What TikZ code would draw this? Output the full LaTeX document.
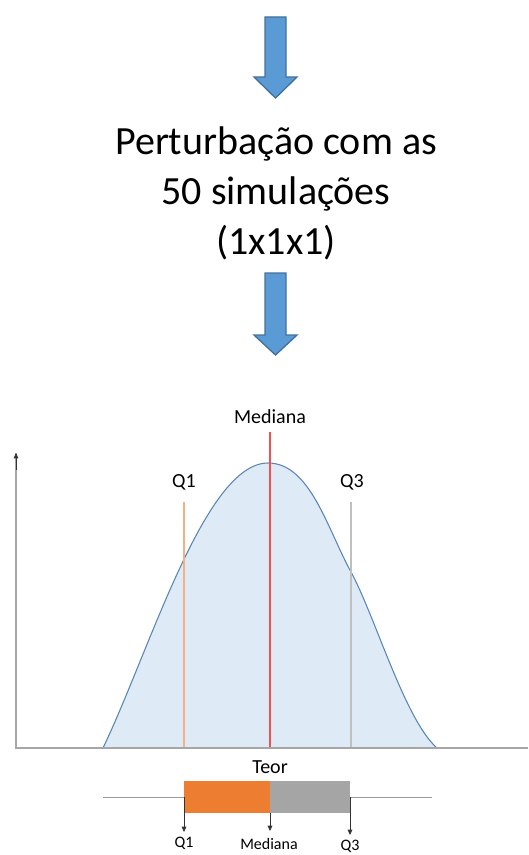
\documentclass[tikz,border=0pt]{standalone}
\usepackage{fontspec}
\setmainfont{Carlito}
\usetikzlibrary{arrows.meta}
\definecolor{blockblue}{HTML}{5B9BD5}
\definecolor{blockedge}{HTML}{41719C}
\definecolor{curvefill}{HTML}{DEEAF6}
\definecolor{curveline}{HTML}{5A86B4}
\definecolor{boxorange}{HTML}{ED7D31}
\definecolor{boxgray}{HTML}{A5A5A5}
\definecolor{q1line}{HTML}{F4B183}
\definecolor{q3line}{HTML}{BFBFBF}
\definecolor{medline}{HTML}{F05050}

\begin{document}
\begin{tikzpicture}[
    x=0.75pt, y=-0.75pt,
    bigarrow/.style={fill=blockblue, draw=blockedge, line width=1pt, line join=miter},
    title/.style={font=\fontsize{30}{37.5}\selectfont, align=center, inner sep=0pt},
    lbl/.style={font=\fontsize{15}{18}\selectfont, inner sep=0pt},
    small/.style={font=\fontsize{12}{14}\selectfont, inner sep=0pt},
    axis/.style={draw=gray!70, line width=0.8pt},
    whisker/.style={draw=gray!80, line width=0.7pt},
    tick/.style={-{Triangle[length=4pt,width=3.5pt]}, black!80, line width=0.6pt},
]
\useasboundingbox (0,0) rectangle (528,855);

% Block arrows
\filldraw[bigarrow] (265,17) -- (286,17) -- (286,77) -- (297,77) -- (275.5,98)
    -- (254,77) -- (265,77) -- cycle;
\node[title] (caption) at (276,193) {Perturbação com as\\50 simulações\\(1x1x1)};
\filldraw[bigarrow] (265,273) -- (286,273) -- (286,335) -- (297,335) -- (275.5,355)
    -- (254,335) -- (265,335) -- cycle;

% Axes
\coordinate (origin) at (16,748);
\coordinate (ytop)   at (16,453);
\coordinate (xend)   at (528,748);
\draw[axis] (xend) -- (origin) -- (ytop);
\draw[tick] (16,470) -- (ytop);

% Density curve
\filldraw[fill=curvefill, draw=curveline, line width=0.8pt]
    (103,748) .. controls (150,650) and (205,463) .. (268,463)
    .. controls (310,463) and (327,528) .. (351,572)
    .. controls (375,616) and (405,720) .. (437,748) -- cycle;

% Quartile lines
\node[lbl] (q1top)  at (184,482) {Q1};
\node[lbl] (medtop) at (270,417) {Mediana};
\node[lbl] (q3top)  at (352,482) {Q3};
\draw[q1line, line width=1pt]  (184,502) -- (184,748);
\draw[medline, line width=1.2pt] (270,432) -- (270,748);
\draw[q3line, line width=1pt]  (351,502) -- (351,748);
\draw[axis] (xend) -- (origin);

% Box plot
\node[lbl] (teor) at (270,767) {Teor};
\coordinate (q1b)  at (184,781);
\coordinate (medb) at (270,813);
\coordinate (q3b)  at (350,781);
\fill[boxorange] (q1b) rectangle (medb);
\fill[boxgray]   (270,781) rectangle (350,813);
\draw[whisker] (103,797) -- (184,797);
\draw[whisker] (350,797) -- (432,797);

\node[small] (q1lbl)  at (184,843) {Q1};
\node[small] (medlbl) at (269,844) {Mediana};
\node[small] (q3lbl)  at (350,846) {Q3};
\draw[tick] (184,797) -- (184,832);
\draw[tick] (270,813) -- (270,831);
\draw[tick] (350,797) -- (350,835);

\end{tikzpicture}
\end{document}
